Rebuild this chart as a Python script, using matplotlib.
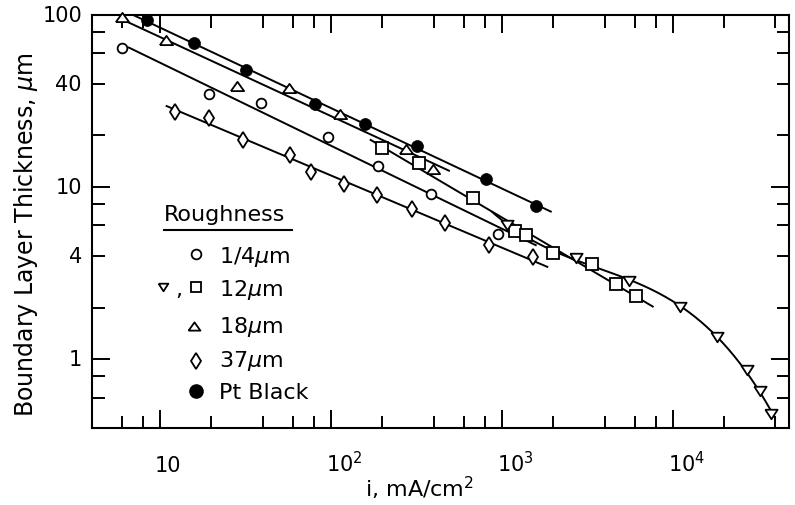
import numpy as np
import matplotlib
matplotlib.use("Agg")
import matplotlib.pyplot as plt
import matplotlib.transforms as mtransforms
from matplotlib.ticker import FixedLocator, NullFormatter, NullLocator

plt.rcParams['font.family'] = ['DejaVu Sans']
plt.rcParams['mathtext.fontset'] = 'dejavusans'

# ---------------- data: i (mA/cm^2) vs boundary layer thickness (um) ----------------
r025_i = [5.97, 19.4, 38.8, 96.4, 188, 384, 951]
r025_d = [64.4, 34.8, 30.7, 19.7, 13.3, 9.1, 5.35]

r12sq_i = [198, 328, 679, 1191, 1382, 1995, 3373, 4642, 6134]
r12sq_d = [16.97, 13.8, 8.66, 5.60, 5.29, 4.13, 3.58, 2.76, 2.33]

r12tri_i = [1080, 2734, 5553, 10990, 18250, 27200, 32580, 37770]
r12tri_d = [6.05, 3.86, 2.85, 2.03, 1.345, 0.866, 0.656, 0.483]

r18_i = [5.97, 10.8, 28.1, 56.8, 113, 277, 395]
r18_d = [97.8, 71.4, 38.9, 37.8, 26.6, 16.7, 12.7]

r37_i = [12.3, 19.4, 30.6, 57.6, 76.4, 120, 187, 299, 464, 843, 1518]
r37_d = [27.4, 25.4, 18.9, 15.3, 12.3, 10.4, 9.06, 7.43, 6.16, 4.65, 3.93]

pt_i = [8.4, 15.9, 31.8, 81, 158, 320, 805, 1580]
pt_d = [93.5, 69.2, 47.7, 30.4, 23.3, 17.4, 11.1, 7.8]

# current ranges covered by the drawn fit curves
r025_span = [6.5, 1600]
r12sq_span = [169, 7740]
r12tri_span = [871, 40000]
r18_span = [6.1, 497]
r37_span = [10.8, 1870]
pt_span = [5.3, 1960]

x_major = [10, 100, 1000, 10000]
x_tick_labels = ["10", "$10^2$", "$10^3$", "$10^4$"]
y_label_ticks = [1, 4, 10, 40, 100]
y_tick_labels = ["1", "4", "10", "40", "100"]

legend_labels = ["1/4$\\mu$m", "12$\\mu$m", "18$\\mu$m", "37$\\mu$m", "Pt Black"]

# ---------------- figure ----------------
W, H = 795, 506
fig = plt.figure(figsize=(W / 100, H / 100), dpi=100)
AX_L, AX_R, AX_T, AX_B = 92, 789, 16, 429
ax = fig.add_axes([AX_L / W, (H - AX_B) / H, (AX_R - AX_L) / W, (AX_B - AX_T) / H])
ax.set_xscale('log')
ax.set_yscale('log')
ax.set_xlim(4, 4.8e4)
ax.set_ylim(0.4, 100)

def fx(px):
    return (px - AX_L) / (AX_R - AX_L)

def fy(py):
    return (AX_B - py) / (AX_B - AX_T)

def fit_curve(xs, ys, span, deg=1, n=300):
    lx, ly = np.log10(xs), np.log10(ys)
    c = np.polyfit(lx, ly, deg)
    gx = np.linspace(np.log10(span[0]), np.log10(span[1]), n)
    return 10 ** gx, 10 ** np.polyval(c, gx)

LW = 1.4
for xs, ys, sp, dg in [(r025_i, r025_d, r025_span, 1),
                       (r12sq_i, r12sq_d, r12sq_span, 1),
                       (r12tri_i, r12tri_d, r12tri_span, 3),
                       (r18_i, r18_d, r18_span, 1),
                       (r37_i, r37_d, r37_span, 1),
                       (pt_i, pt_d, pt_span, 1)]:
    lx, ly = fit_curve(xs, ys, sp, dg)
    ax.plot(lx, ly, color='black', lw=LW, zorder=2, solid_capstyle='butt')

tri_up = [(-1, -0.7), (1, -0.7), (0, 0.7), (-1, -0.7)]
tri_dn = [(-1, 0.78), (1, 0.78), (0, -0.78), (-1, 0.78)]
MEW = 1.3
open_kw = dict(linestyle='none', markerfacecolor='white', markeredgecolor='black',
               markeredgewidth=MEW, zorder=3, clip_on=False)

ax.plot(r025_i, r025_d, marker='o', markersize=7, **open_kw)
ax.plot(r12sq_i, r12sq_d, marker='s', markersize=8.2, **open_kw)
ax.plot(r12tri_i, r12tri_d, marker=tri_dn, markersize=8.8, **open_kw)
ax.plot(r18_i, r18_d, marker=tri_up, markersize=9.5, **open_kw)
ax.plot(r37_i, r37_d, marker='d', markersize=7.7, **open_kw)
ax.plot(pt_i, pt_d, linestyle='none', marker='o', markersize=8.6, markerfacecolor='black',
        markeredgecolor='black', markeredgewidth=0.5, zorder=3)

# ---------------- axes styling ----------------
for s in ax.spines.values():
    s.set_linewidth(1.5)
ax.xaxis.set_major_locator(FixedLocator(x_major))
ax.xaxis.set_minor_locator(FixedLocator([m * 10 ** k for k in range(0, 5) for m in (2, 4, 6, 8)]))
ax.yaxis.set_major_locator(FixedLocator([1, 10, 100]))
ax.yaxis.set_minor_locator(FixedLocator([m * 10 ** k for k in range(-1, 2) for m in (2, 4, 6, 8)]))
ax.xaxis.set_major_formatter(NullFormatter())
ax.xaxis.set_minor_formatter(NullFormatter())
ax.yaxis.set_major_formatter(NullFormatter())
ax.yaxis.set_minor_formatter(NullFormatter())
ax.tick_params(which='both', direction='in', top=True, right=True, width=1.4)
ax.tick_params(which='major', length=13)
ax.tick_params(which='minor', length=9)

TFS = 15
xt = mtransforms.blended_transform_factory(ax.transData, ax.transAxes) + \
    mtransforms.ScaledTranslation(-5 / 100, 0, fig.dpi_scale_trans)
for t, lab in zip(x_major, x_tick_labels):
    ax.text(t, fy(472.5), lab, transform=xt, ha='left', va='baseline', fontsize=TFS, clip_on=False)

yt = mtransforms.blended_transform_factory(ax.transAxes, ax.transData)
for t, lab in zip(y_label_ticks, y_tick_labels):
    ax.text(fx(82), t, lab, transform=yt, ha='right', va='center', fontsize=TFS, clip_on=False)

fig.text(26 / W, 1 - 235 / H, "Boundary Layer Thickness, $\\mu$m", rotation=90,
         ha='center', va='center', fontsize=17)
fig.text(420 / W, 1 - 488 / H, "i, mA/cm$^2$", ha='center', va='center', fontsize=16)

# ---------------- legend block ----------------
LFS = 16
ax.text(fx(164), fy(215), "Roughness", transform=ax.transAxes, ha='left', va='center', fontsize=LFS)
ax.plot([fx(164), fx(292)], [fy(230.7), fy(230.7)], transform=ax.transAxes, color='black', lw=1.5,
        clip_on=False)

rows_y = [263, 296.5, 333, 367, 399.5]
mark_y = [255, 288.3, 326.7, 361.7, 391.7]
for yb, lab in zip(rows_y, legend_labels):
    ax.text(fx(219), fy(yb), lab, transform=ax.transAxes, ha='left', va='baseline', fontsize=LFS)

lg = dict(transform=ax.transAxes, linestyle='none', markerfacecolor='white', markeredgecolor='black',
          markeredgewidth=MEW, clip_on=False)
ax.plot([fx(196)], [fy(mark_y[0])], marker='o', markersize=7, **lg)
ax.plot([fx(196)], [fy(mark_y[1])], marker='s', markersize=7, **lg)
ax.plot([fx(163)], [fy(mark_y[1])], marker=tri_dn, markersize=7, **lg)
ax.text(fx(175), fy(rows_y[1]), ",", transform=ax.transAxes, ha='left', va='baseline', fontsize=LFS)
ax.plot([fx(194)], [fy(mark_y[2])], marker=tri_up, markersize=8.5, **lg)
ax.plot([fx(196)], [fy(mark_y[3])], marker='d', markersize=8.5, **lg)
ax.plot([fx(196)], [fy(mark_y[4])], marker='o', markersize=9.5, transform=ax.transAxes,
        linestyle='none', markerfacecolor='black', markeredgecolor='black', clip_on=False)

fig.savefig("out.png", dpi=100)
